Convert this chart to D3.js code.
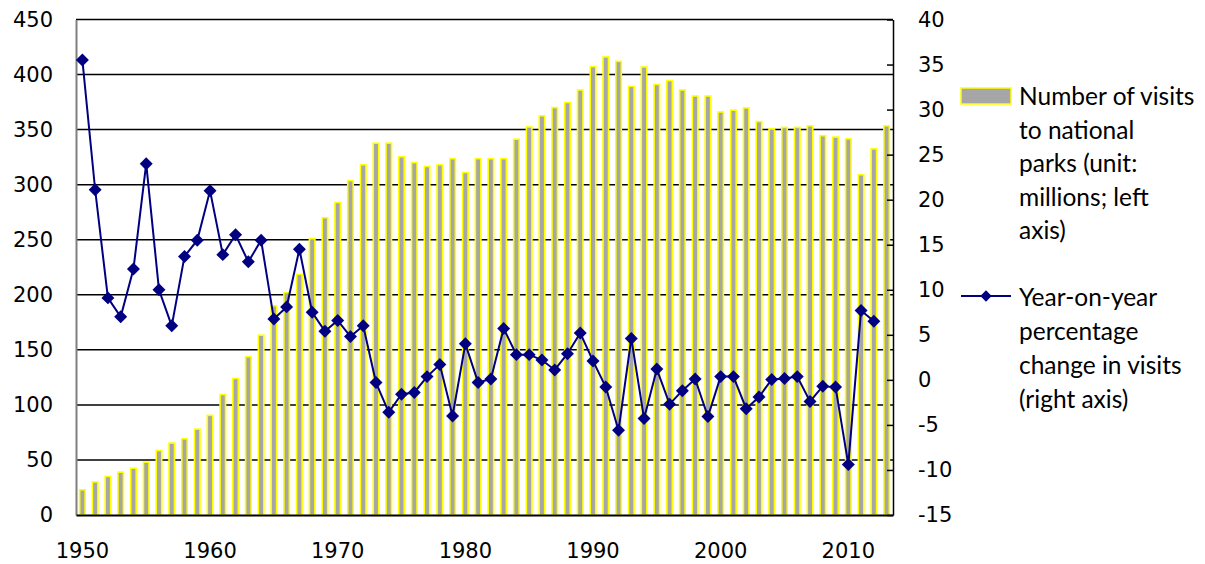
<!DOCTYPE html>
<html>
<head>
<meta charset="UTF-8" />
<title>National park visits</title>
<script src="https://cdn.jsdelivr.net/npm/d3@7"></script>
<style>
  body, html { margin:0; padding:0; background:#fff; }
</style>
</head>
<body>
<svg id="chart" width="1205" height="564"></svg>
<script>
// years on the category axis
const years = d3.range(1950, 2014);

// visits to national parks, millions (left axis)
const visits = [
  22.9, 30, 35, 38.9, 42.5, 48, 58.5, 65.3, 69.2, 78,
  90.5, 109.4, 124, 143.7, 163.3, 190, 202, 218.5, 251, 270,
  283.8, 303.7, 318, 337.7, 337.7, 325.3, 320, 316.5, 318, 323.6,
  311, 323.6, 323.6, 323.6, 341.3, 352.4, 362.5, 370, 374.6, 386,
  407.2, 416, 412, 389.3, 406.9, 391, 394.5, 386, 380.5, 380.5,
  366, 367.7, 369.7, 357.3, 350.7, 352, 352, 353.4, 344.5, 343.2,
  341.6, 309, 332.5, 353.4
];

// year-on-year change, % (right axis); no point for the last year
const change = [
  35.5, 21.1, 9.1, 7.0, 12.3, 24.0, 10.0, 6.0, 13.7, 15.5,
  21.0, 13.9, 16.1, 13.1, 15.5, 6.75, 8.1, 14.5, 7.5, 5.4,
  6.6, 4.8, 6.0, -0.3, -3.6, -1.6, -1.4, 0.36, 1.7, -4.0,
  4.0, -0.3, 0.1, 5.7, 2.8, 2.8, 2.2, 1.1, 2.9, 5.2,
  2.1, -0.8, -5.6, 4.6, -4.3, 1.2, -2.7, -1.2, 0.1, -4.07,
  0.36, 0.36, -3.2, -1.9, 0.04, 0.16, 0.36, -2.4, -0.7, -0.8,
  -9.4, 7.7, 6.5, null
];

const leftTicks = d3.range(0, 451, 50);
const rightTicks = d3.range(-15, 41, 5);
const xLabels = [1950, 1960, 1970, 1980, 1990, 2000, 2010];

const legendBar = ["Number of visits", "to national", "parks (unit:", "millions; left", "axis)"];
const legendLine = ["Year-on-year", "percentage", "change in visits", "(right axis)"];

const m = { left: 76, right: 893, top: 19.5, bottom: 515 };
const svg = d3.select('#chart');
const axisFont = '"DejaVu Sans", Verdana, sans-serif';
const plain = d => String(d);   // keep hyphen-minus like the original

const x = d3.scaleBand().domain(years).range([m.left, m.right]).paddingInner(0.57).paddingOuter(0.285);
const yL = d3.scaleLinear().domain([0, 450]).range([m.bottom, m.top]);
const yR = d3.scaleLinear().domain([-15, 40]).range([m.bottom, m.top]);
const cx = d => x(d) + x.bandwidth() / 2;

// gridlines, behind the bars
svg.append('g')
  .selectAll('line')
  .data(leftTicks.filter(d => d > 0))
  .join('line')
    .attr('x1', m.left).attr('x2', m.right)
    .attr('y1', d => yL(d)).attr('y2', d => yL(d))
    .attr('stroke', '#000').attr('stroke-width', 1.5);

// bars
svg.append('g')
  .selectAll('rect')
  .data(years)
  .join('rect')
    .attr('x', d => x(d))
    .attr('width', x.bandwidth())
    .attr('y', (d, i) => yL(visits[i]))
    .attr('height', (d, i) => yL(0) - yL(visits[i]))
    .attr('fill', '#a6a6a6')
    .attr('stroke', '#ffff00')
    .attr('stroke-width', 1.6);

// left axis (labels only, grey line)
const axL = svg.append('g')
  .attr('transform', `translate(${m.left},0)`)
  .call(d3.axisLeft(yL).tickValues(leftTicks).tickSize(0).tickPadding(23).tickFormat(plain));
axL.select('.domain').attr('stroke', '#808080').attr('stroke-width', 2);

// right axis, ticks pointing inwards
const axR = svg.append('g')
  .attr('transform', `translate(${m.right},0)`)
  .call(d3.axisRight(yR).tickValues(rightTicks).tickSizeInner(-6).tickSizeOuter(0).tickPadding(25).tickFormat(plain));
axR.select('.domain').attr('stroke', '#000').attr('stroke-width', 1.5);
axR.selectAll('.tick line').attr('stroke', '#000').attr('stroke-width', 1.5);

// bottom axis
const axB = svg.append('g')
  .attr('transform', `translate(0,${m.bottom})`)
  .call(d3.axisBottom(x).tickValues(xLabels).tickSize(0).tickPadding(28).tickFormat(plain));
axB.select('.domain').attr('stroke', '#000').attr('stroke-width', 2);

[axL, axR, axB].forEach(a => a.attr('font-family', axisFont).attr('font-size', 21)
  .selectAll('text').attr('fill', '#000'));

// line series
const line = d3.line()
  .defined(d => d[1] != null)
  .x(d => cx(d[0]))
  .y(d => yR(d[1]));
const pts = years.map((yr, i) => [yr, change[i]]);

svg.append('path')
  .datum(pts)
  .attr('d', line)
  .attr('fill', 'none')
  .attr('stroke', '#000080')
  .attr('stroke-width', 2);

const diamond = d3.symbol(d3.symbolSquare, 84);
svg.append('g')
  .selectAll('path')
  .data(pts.filter(d => d[1] != null))
  .join('path')
    .attr('d', diamond)
    .attr('transform', d => `translate(${cx(d[0])},${yR(d[1])}) rotate(45)`)
    .attr('fill', '#000080');

// legend
const lg = svg.append('g')
  .attr('font-family', 'Lato, "Open Sans", sans-serif')
  .attr('font-size', 24.5);
lg.append('rect')
  .attr('x', 961).attr('y', 88).attr('width', 50).attr('height', 16)
  .attr('fill', '#a6a6a6').attr('stroke', '#ffff00').attr('stroke-width', 1.5);
lg.selectAll('text.a')
  .data(legendBar)
  .join('text')
    .attr('class', 'a')
    .attr('x', 1019)
    .attr('y', (d, i) => 96.5 + i * 33.5)
    .attr('dy', '0.35em')
    .text(d => d);

lg.append('line')
  .attr('x1', 961).attr('x2', 1011).attr('y1', 296).attr('y2', 296)
  .attr('stroke', '#000080').attr('stroke-width', 2);
lg.append('path')
  .attr('d', d3.symbol(d3.symbolSquare, 64))
  .attr('transform', 'translate(986,296) rotate(45)')
  .attr('fill', '#000080');
lg.selectAll('text.b')
  .data(legendLine)
  .join('text')
    .attr('class', 'b')
    .attr('x', 1019)
    .attr('y', (d, i) => 297 + i * 34)
    .attr('dy', '0.35em')
    .text(d => d);
</script>
</body>
</html>
